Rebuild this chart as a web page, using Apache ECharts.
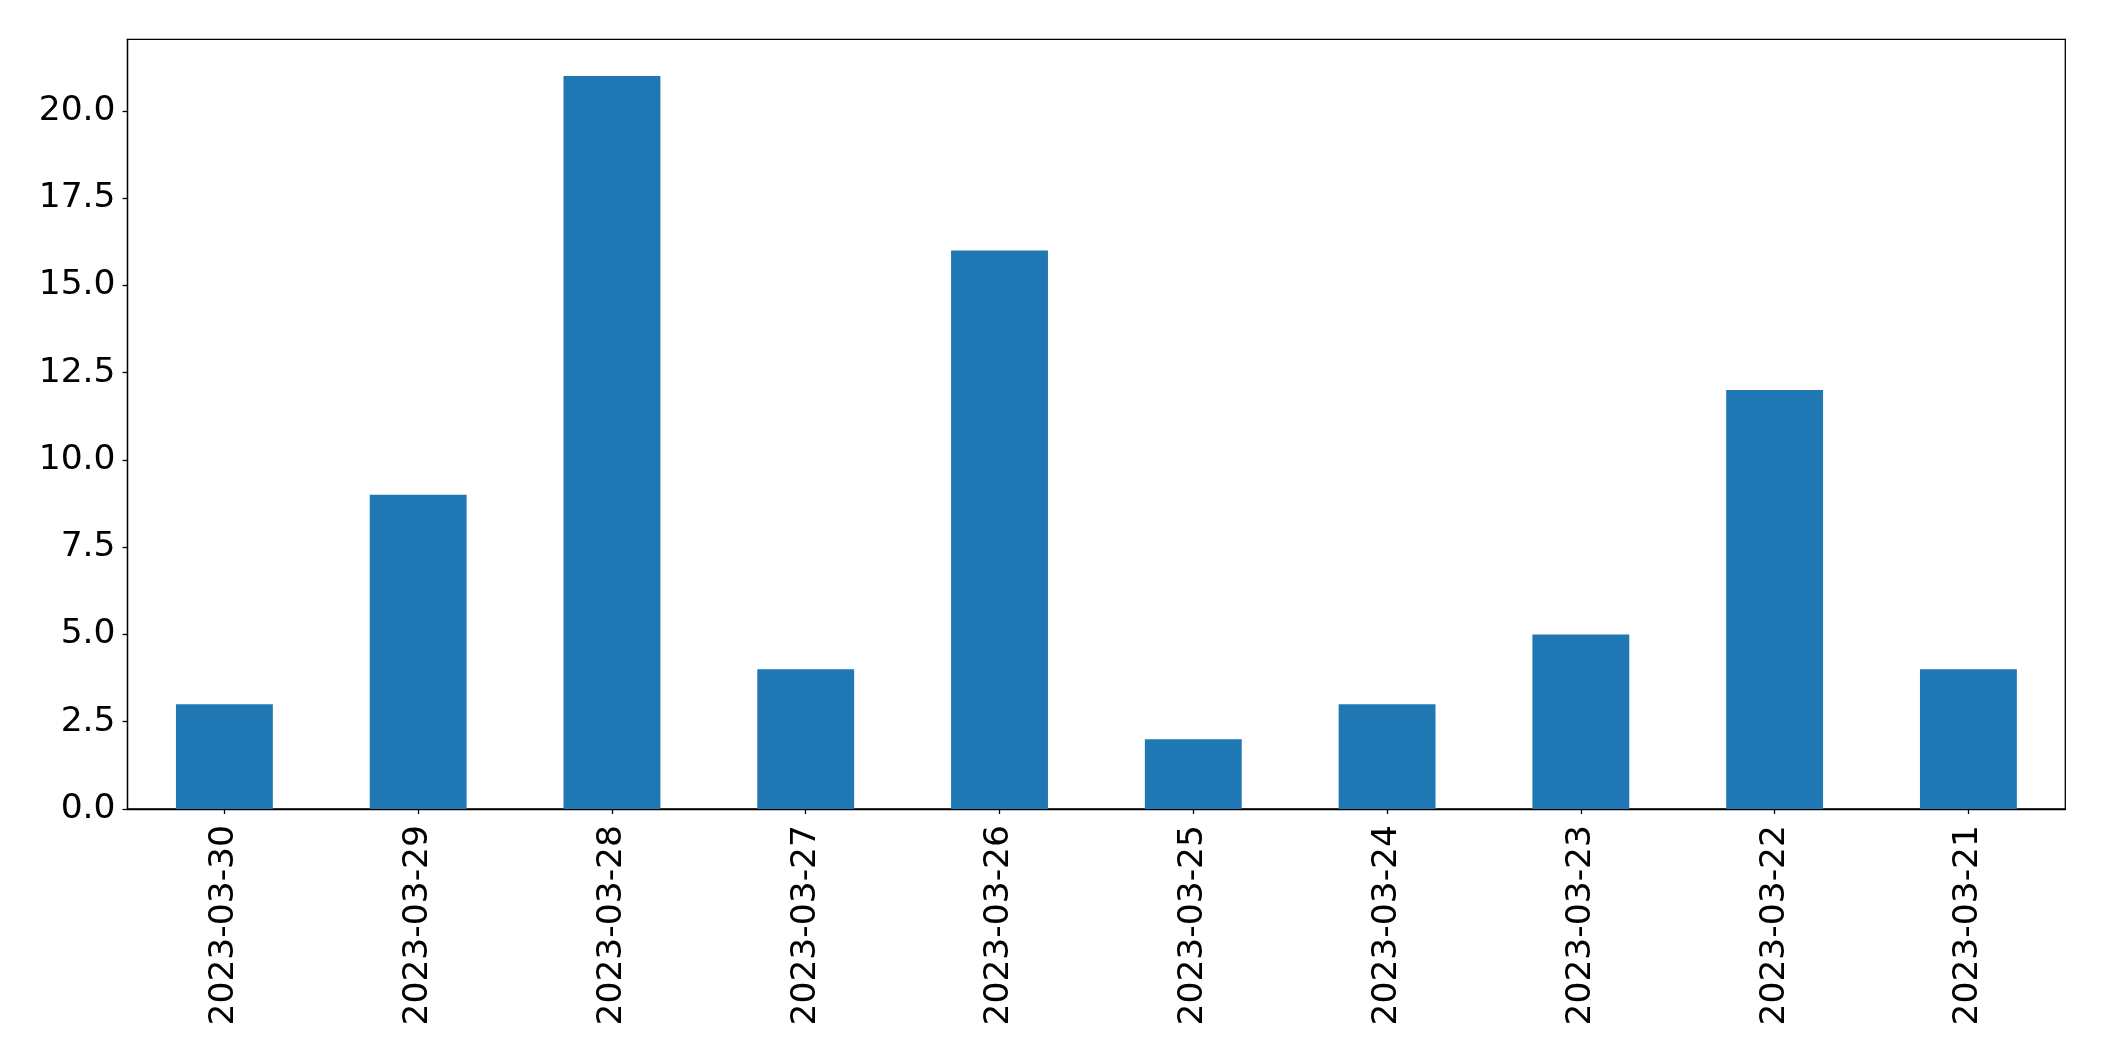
<!DOCTYPE html>
<html>
<head>
<meta charset="utf-8">
<script src="https://cdn.jsdelivr.net/npm/echarts@6/dist/echarts.min.js"></script>
<style>
  html, body { margin: 0; padding: 0; background: #fff; }
  #chart { width: 2104px; height: 1061px; }
</style>
</head>
<body>
<div id="chart"></div>
<script>
// dates along the x axis (newest first, as in the source)
const dates = ['2023-03-30', '2023-03-29', '2023-03-28', '2023-03-27', '2023-03-26',
  '2023-03-25', '2023-03-24', '2023-03-23', '2023-03-22', '2023-03-21']
const counts = [3, 9, 21, 4, 16, 2, 3, 5, 12, 4]
const yTicks = [0, 2.5, 5, 7.5, 10, 12.5, 15, 17.5, 20]

const font = 'DejaVu Sans'
const chart = echarts.init(document.getElementById('chart'))

chart.setOption({
  animation: false,
  grid: {
    left: 127.5,
    right: 38.7,
    top: 39.3,
    bottom: 252,
    show: true,
    borderColor: '#000',
    borderWidth: 1.3,
    backgroundColor: 'transparent'
  },
  xAxis: {
    type: 'category',
    data: dates,
    axisLine: { show: true, lineStyle: { color: '#000', width: 1.3 } },
    axisTick: { show: true, alignWithLabel: true, length: 5, lineStyle: { color: '#000', width: 1.3 } },
    axisLabel: {
      rotate: 90,
      margin: 16,
      color: '#000',
      fontFamily: font,
      fontSize: 34.5
    },
    splitLine: { show: false }
  },
  yAxis: {
    type: 'value',
    min: 0,
    max: 22.05,
    interval: 2.5,
    axisLine: { show: true, lineStyle: { color: '#000', width: 1.3 } },
    axisTick: { show: true, length: 5, lineStyle: { color: '#000', width: 1.3 } },
    axisLabel: {
      margin: 12,
      color: '#000',
      fontFamily: font,
      fontSize: 34.5,
      showMaxLabel: false,
      formatter: v => (yTicks.includes(v) ? v.toFixed(1) : '')
    },
    splitLine: { show: false }
  },
  series: [
    {
      type: 'bar',
      data: counts,
      barWidth: '50%',
      itemStyle: { color: '#1f77b4' }
    }
  ]
})
</script>
</body>
</html>
